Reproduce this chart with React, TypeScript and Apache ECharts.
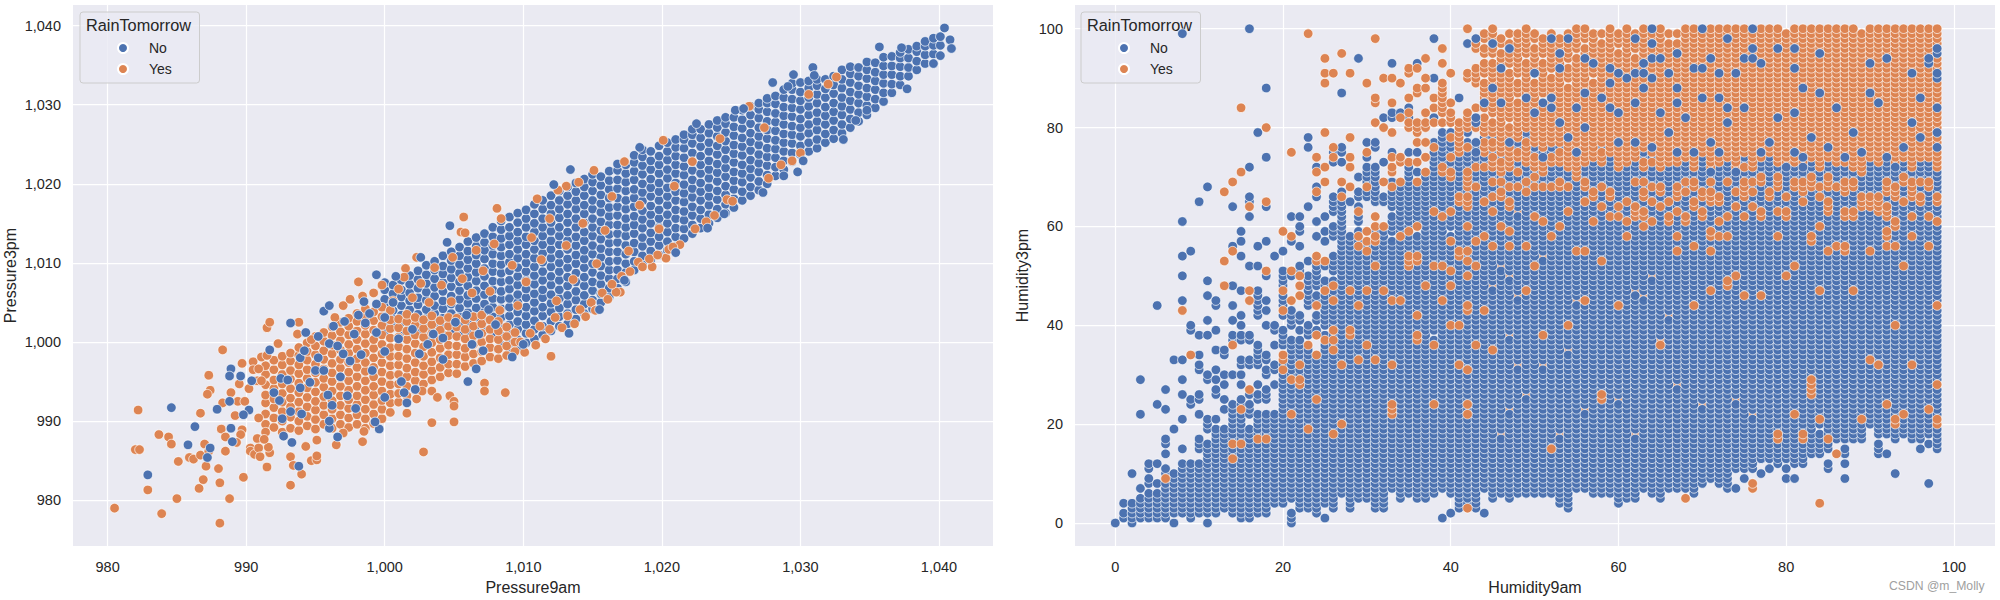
import React, { useEffect, useRef } from "react";
import * as echarts from "echarts";

const legendNames = ["No", "Yes"];
const legendTitle = "RainTomorrow";
const pressureXTicks = [980, 990, 1000, 1010, 1020, 1030, 1040];
const pressureYTicks = [980, 990, 1000, 1010, 1020, 1030, 1040];
const humidityTicks = [0, 20, 40, 60, 80, 100];

// Pressure plot: each row is [Pressure9am, Pressure3pm, Pressure3pm, ...]
const pressureNoColumns: number[][] = [
[1000.0,1001.2,1002.4,1003.3,1004.5,1005.4,1006.6,1007.5],
[1000.6,1001.9,1002.9,1004.0,1005.0,1006.1,1007.2],
[1001.2,1001.3,1002.5,1003.4,1004.6,1005.7,1006.6,1007.8],
[1001.8,1000.8,1002.0,1003.1,1004.1,1005.2,1006.2,1007.3,1008.4],
[1002.4,1001.2,1002.5,1003.5,1004.7,1005.6,1006.8,1007.9,1009.0],
[1003.0,1000.7,1001.9,1003.0,1004.1,1005.3,1006.3,1007.4,1008.5,1009.7],
[1003.6,1001.3,1002.4,1003.6,1004.6,1005.8,1006.9,1008.0,1009.1,1010.2],
[1004.2,1000.9,1002.0,1003.0,1004.2,1005.2,1006.4,1007.5,1008.6,1009.6,1010.9],
[1004.8,1001.4,1002.6,1003.6,1004.8,1005.8,1007.0,1008.1,1009.2,1010.3,1011.4],
[1005.4,1000.8,1002.0,1003.2,1004.3,1005.4,1006.5,1007.6,1008.7,1009.8,1010.9,1012.0],
[1006.0,1001.4,1002.6,1003.7,1004.9,1005.9,1007.1,1008.2,1009.3,1010.4,1011.5,1012.7],
[1006.6,1000.9,1002.1,1003.2,1004.3,1005.5,1006.5,1007.7,1008.8,1009.9,1011.0,1012.1,1013.2],
[1007.2,1001.5,1002.7,1003.8,1004.8,1006.0,1007.1,1008.3,1009.3,1010.5,1011.6,1012.6,1013.7],
[1007.8,1000.8,1002.0,1003.2,1004.4,1005.5,1006.6,1007.7,1008.9,1009.9,1011.1,1012.2,1013.3,1014.5],
[1008.4,999.6,1000.8,1001.9,1003.1,1004.2,1005.4,1006.4,1007.6,1008.7,1009.8,1010.9,1012.0,1013.1,1014.2,1015.3],
[1009.0,998.6,999.8,1001.0,1002.2,1003.3,1004.4,1005.5,1006.7,1007.8,1009.0,1010.1,1011.1,1012.3,1013.4,1014.5,1015.8],
[1009.6,999.2,1000.3,1001.6,1002.6,1003.8,1005.0,1006.0,1007.2,1008.3,1009.4,1010.6,1011.7,1012.8,1013.9,1015.1,1016.3],
[1010.2,999.9,1001.1,1002.2,1003.3,1004.4,1005.6,1006.7,1007.8,1008.9,1010.0,1011.1,1012.3,1013.3,1014.5,1015.6,1016.7],
[1010.8,1000.4,1001.6,1002.7,1003.9,1005.0,1006.1,1007.3,1008.4,1009.5,1010.6,1011.7,1012.8,1013.9,1015.0,1016.2,1017.4],
[1011.4,1000.9,1002.0,1003.3,1004.4,1005.6,1006.6,1007.8,1008.9,1010.1,1011.2,1012.3,1013.4,1014.5,1015.6,1016.8,1017.9],
[1012.0,1001.4,1002.6,1003.8,1004.9,1006.0,1007.2,1008.3,1009.5,1010.6,1011.7,1012.8,1014.0,1015.1,1016.2,1017.3,1018.5],
[1012.6,1002.0,1003.2,1004.3,1005.5,1006.6,1007.8,1008.9,1010.0,1011.1,1012.3,1013.4,1014.5,1015.7,1016.8,1017.9,1019.1],
[1013.2,1002.3,1003.6,1004.8,1005.9,1007.1,1008.2,1009.4,1010.5,1011.7,1012.8,1013.9,1015.1,1016.2,1017.4,1018.5,1019.6],
[1013.8,1002.9,1004.1,1005.3,1006.4,1007.6,1008.7,1009.9,1011.0,1012.2,1013.3,1014.5,1015.6,1016.8,1017.9,1019.0,1020.1],
[1014.4,1003.6,1004.8,1005.9,1007.1,1008.2,1009.4,1010.5,1011.6,1012.8,1013.9,1015.1,1016.2,1017.3,1018.5,1019.6,1020.6],
[1015.0,1004.2,1005.3,1006.5,1007.6,1008.8,1009.9,1011.1,1012.2,1013.4,1014.5,1015.6,1016.8,1017.9,1019.1,1020.2,1021.2],
[1015.6,1005.0,1006.1,1007.3,1008.4,1009.6,1010.7,1011.8,1013.0,1014.1,1015.2,1016.4,1017.5,1018.6,1019.8,1020.9],
[1016.2,1005.7,1006.8,1008.0,1009.1,1010.2,1011.4,1012.5,1013.6,1014.8,1015.9,1017.0,1018.2,1019.3,1020.4,1021.6],
[1016.8,1006.8,1008.0,1009.1,1010.3,1011.4,1012.6,1013.7,1014.8,1016.0,1017.1,1018.2,1019.4,1020.5,1021.7,1022.5],
[1017.4,1007.6,1008.8,1009.9,1011.1,1012.2,1013.4,1014.5,1015.6,1016.8,1017.9,1019.1,1020.2,1021.3,1022.4],
[1018.0,1009.1,1010.2,1011.4,1012.5,1013.7,1014.8,1015.9,1017.1,1018.2,1019.3,1020.5,1021.6,1022.7,1023.6],
[1018.6,1009.8,1010.9,1012.1,1013.2,1014.4,1015.5,1016.6,1017.8,1018.9,1020.0,1021.2,1022.3,1023.4,1024.3],
[1019.2,1010.4,1011.5,1012.7,1013.8,1015.0,1016.1,1017.2,1018.4,1019.5,1020.6,1021.8,1022.9,1024.1],
[1019.8,1011.0,1012.2,1013.3,1014.5,1015.6,1016.7,1017.9,1019.0,1020.1,1021.3,1022.4,1023.5,1024.8],
[1020.4,1011.6,1012.7,1013.9,1015.0,1016.1,1017.3,1018.4,1019.5,1020.7,1021.8,1023.0,1024.1,1025.2],
[1021.0,1012.1,1013.3,1014.4,1015.6,1016.7,1017.9,1019.0,1020.1,1021.3,1022.4,1023.5,1024.6,1025.6],
[1021.6,1013.1,1014.3,1015.4,1016.5,1017.7,1018.8,1019.9,1021.1,1022.2,1023.3,1024.5,1025.6,1026.2],
[1022.2,1013.7,1014.8,1016.0,1017.1,1018.3,1019.4,1020.5,1021.7,1022.8,1023.9,1025.1,1026.2,1026.9],
[1022.8,1014.4,1015.6,1016.7,1017.9,1019.0,1020.1,1021.3,1022.4,1023.5,1024.7,1025.8,1026.9],
[1023.4,1015.0,1016.1,1017.3,1018.4,1019.5,1020.7,1021.8,1022.9,1024.1,1025.2,1026.4,1027.5],
[1024.0,1015.7,1016.8,1018.0,1019.1,1020.3,1021.4,1022.5,1023.7,1024.8,1026.0,1027.1,1028.0],
[1024.6,1016.3,1017.4,1018.6,1019.7,1020.9,1022.0,1023.1,1024.3,1025.4,1026.5,1027.6,1028.4],
[1025.2,1017.0,1018.1,1019.3,1020.4,1021.5,1022.7,1023.8,1024.9,1026.1,1027.2,1028.4],
[1025.8,1017.9,1019.0,1020.2,1021.3,1022.4,1023.6,1024.7,1025.8,1027.0,1028.1,1029.3],
[1026.4,1018.5,1019.6,1020.8,1021.9,1023.0,1024.2,1025.3,1026.4,1027.6,1028.7,1029.8],
[1027.0,1019.2,1020.3,1021.5,1022.6,1023.7,1024.9,1026.0,1027.1,1028.3,1029.4,1030.2],
[1027.6,1020.0,1021.1,1022.3,1023.4,1024.5,1025.7,1026.8,1027.9,1029.1,1030.2,1030.8],
[1028.2,1021.0,1022.1,1023.3,1024.4,1025.5,1026.7,1027.8,1028.9,1030.1,1031.1],
[1028.8,1021.8,1022.9,1024.1,1025.2,1026.3,1027.5,1028.6,1029.7,1030.9,1031.9],
[1029.4,1022.8,1023.9,1025.1,1026.2,1027.3,1028.5,1029.6,1030.7,1031.9,1032.7],
[1030.0,1023.7,1024.8,1026.0,1027.1,1028.2,1029.4,1030.5,1031.6,1032.8],
[1030.6,1024.1,1025.2,1026.4,1027.5,1028.7,1029.8,1030.9,1032.1,1033.0],
[1031.2,1024.5,1025.6,1026.8,1027.9,1029.0,1030.2,1031.3,1032.4,1033.2],
[1031.8,1025.2,1026.3,1027.5,1028.6,1029.7,1030.9,1032.0,1033.2],
[1032.4,1025.7,1026.8,1028.0,1029.1,1030.2,1031.4,1032.5,1033.6],
[1033.0,1026.4,1027.5,1028.7,1029.8,1030.9,1032.1,1033.2,1034.4],
[1033.6,1027.1,1028.2,1029.4,1030.5,1031.6,1032.8,1033.9,1034.8],
[1034.2,1027.9,1029.0,1030.2,1031.3,1032.4,1033.6,1034.7],
[1034.8,1028.7,1029.9,1031.0,1032.1,1033.3,1034.4,1035.4],
[1035.4,1029.6,1030.7,1031.9,1033.0,1034.1,1035.3],
[1036.0,1030.4,1031.5,1032.7,1033.8,1034.9,1036.0],
[1036.6,1031.5,1032.6,1033.8,1034.9,1036.1],
[1037.2,1032.5,1033.6,1034.8,1035.9,1036.6],
[1037.8,1033.6,1034.7,1035.9,1037.0],
[1038.4,1034.4,1035.5,1036.7,1037.4],
[1039.0,1035.2,1036.3,1037.4,1038.0],
[1039.6,1035.2,1036.4,1037.5,1038.4],
[1040.1,1036.2,1037.5,1038.6],
];

const pressureYesColumns: number[][] = [
[991.4,989.6,990.9,992.3,993.3,994.6,995.9,997.0],
[992.0,989.2,990.4,991.7,992.8,994.1,995.2,996.5,997.7],
[992.6,988.6,990.0,991.2,992.4,993.5,994.7,995.9,997.1,998.2],
[993.2,989.1,990.5,991.8,992.9,994.1,995.3,996.4,997.6,998.6],
[993.8,988.8,990.0,991.2,992.4,993.6,994.8,996.0,997.1,998.3,999.3],
[994.4,989.4,990.6,991.8,993.0,994.2,995.4,996.5,997.7,998.8,999.9],
[995.0,989.0,990.2,991.4,992.5,993.7,994.9,996.1,997.2,998.4,999.5,1000.7],
[995.6,989.6,990.8,992.0,993.1,994.3,995.4,996.6,997.8,998.9,1000.1,1001.2],
[996.2,989.1,990.3,991.5,992.6,993.8,995.0,996.1,997.3,998.5,999.6,1000.8,1001.9],
[996.8,989.6,990.8,992.0,993.2,994.4,995.5,996.7,997.8,999.0,1000.2,1001.3,1002.5],
[997.4,989.2,990.4,991.6,992.7,993.9,995.1,996.2,997.4,998.6,999.7,1000.9,1002.0,1003.0],
[998.0,989.6,990.8,992.1,993.2,994.4,995.6,996.8,997.9,999.1,1000.3,1001.4,1002.6,1003.6],
[998.6,989.1,990.3,991.5,992.7,993.9,995.1,996.3,997.4,998.6,999.8,1001.0,1002.1,1003.3,1004.2],
[999.2,989.7,990.9,992.1,993.3,994.4,995.6,996.8,998.0,999.2,1000.3,1001.5,1002.7,1003.8],
[999.8,990.3,991.5,992.6,993.8,995.0,996.2,997.4,998.5,999.7,1000.9,1002.1,1003.2,1004.4],
[1000.4,991.1,992.3,993.4,994.6,995.8,997.0,998.2,999.3,1000.5,1001.7,1002.8,1004.0],
[1001.0,992.4,993.5,994.7,995.9,997.1,998.2,999.4,1000.6,1001.8,1002.9],
[1001.6,993.2,994.4,995.6,996.7,997.9,999.1,1000.3,1001.4,1002.6,1003.5],
[1002.2,993.9,995.1,996.2,997.4,998.6,999.8,1000.9,1002.1,1003.1],
[1002.8,994.7,995.9,997.0,998.2,999.4,1000.6,1001.7,1002.8],
[1003.4,995.2,996.4,997.5,998.7,999.9,1001.1,1002.2,1003.3],
[1004.0,995.6,996.8,998.0,999.2,1000.3,1001.5,1002.7],
[1004.6,996.1,997.2,998.4,999.6,1000.8,1002.0,1003.1],
[1005.2,996.0,997.2,998.4,999.5,1000.7,1001.9,1003.0],
[1005.8,996.9,998.1,999.2,1000.4,1001.6,1002.8],
[1006.4,997.3,998.5,999.7,1000.8,1002.0,1003.2],
[1007.0,997.6,998.8,1000.0,1001.1,1002.3,1003.4],
[1007.6,998.1,999.3,1000.4,1001.6,1002.8],
[1008.2,997.9,999.1,1000.3,1001.4,1002.6],
[1008.8,998.3,999.5,1000.7,1001.9],
[1009.4,998.8,1000.0,1001.2],
];

// Individual readings, as [Pressure9am, Pressure3pm]
const pressureYesPoints: [number, number][] = [
[980.5,979.0],[982.2,991.4],[982.0,986.4],[982.3,986.4],[982.9,981.3],[983.7,988.3],[983.9,978.3],[984.4,988.0],[984.6,987.1],[985.1,984.9],[985.0,980.2],[985.9,985.4],[986.2,985.2],[986.7,991.0],[986.7,985.7],[986.6,981.5],[986.9,982.6],[987.0,987.1],[987.1,984.3],[987.3,986.2],[987.3,995.8],[987.4,993.9],[987.2,993.4],[988.0,984.0],[988.1,982.2],[988.1,977.1],[988.3,999.0],[988.3,992.3],[988.2,989.0],[988.5,988.0],[988.5,986.2],[988.8,980.2],[988.9,993.6],[989.4,992.5],[989.9,992.5],[989.5,994.7],[989.7,997.3],[989.2,990.7],[989.7,988.9],[989.6,988.3],[989.3,987.3],[989.8,982.9],[990.2,994.1],[990.5,997.5],[990.5,996.5],[990.9,996.6],[990.8,995.1],[991.1,995.1],[990.3,986.6],[990.3,986.2],[990.6,985.8],[990.8,987.8],[990.9,986.6],[991.0,985.5],[991.7,986.0],[991.5,984.2],[991.6,986.7],[991.4,988.6],[991.3,987.7],[990.9,990.4],[991.5,1001.8],[991.7,1002.5],[991.1,998.1],[991.5,998.3],[992.3,999.8],[993.2,985.5],[993.4,984.4],[993.2,981.9],[994.0,983.3],[994.3,986.8],[994.7,985.0],[995.1,985.1],[995.1,985.6],[995.1,987.6],[993.8,1002.5],[993.7,1001.0],[994.7,1000.3],[996.5,987.0],[997.0,988.5],[998.1,1007.6],[998.4,987.4],[998.5,988.7],[1001.6,991.0],[1002.3,992.8],[1002.8,986.1],[1002.7,993.8],[1003.4,989.8],[1003.4,993.8],[1003.8,993.0],[1004.7,993.2],[1005.0,992.5],[1005.0,991.9],[1005.0,989.9],[1007.2,994.8],[1007.2,993.8],[1005.7,1015.8],[1005.5,1013.9],[1005.8,1013.8],[1001.5,1009.3],[1002.3,1010.7],
[1008.7,993.6],[1012.0,998.2],[1017.0,1006.3],[1016.7,1006.3],[1020.3,1010.6],[1019.3,1009.5],[1021.3,1012.3],[1023.8,1016.0],[1024.7,1018.0],[1030.0,1023.9],[1030.6,1031.3],[1032.0,1032.6],[1032.6,1033.5],[1026.3,1029.8],[1020.1,1025.5],[1015.1,1021.7],[1017.3,1022.8],[1014.0,1020.2],[1013.1,1019.7],[1012.5,1019.2],[1011.0,1018.1],
[996.4,1003.1],[997.0,1004.6],[997.5,1005.4],[998.4,1005.8],[999.2,1006.2],[999.8,1007.2],[1000.6,1005.2],[1001.0,1006.7],[1001.4,1008.2],[1002.0,1005.6],[1002.6,1007.4],[1003.2,1005.0],[1003.6,1009.4],[1004.1,1007.2],[1004.8,1005.1],[1004.9,1010.7],[1005.6,1008.0],[1006.3,1006.2],[1006.6,1011.6],[1007.1,1009.0],[1007.6,1006.4],[1007.9,1012.4],[1008.1,1016.9],[1008.3,1004.0],[1008.4,1015.6],[1009.2,1009.7],[1009.6,1004.6],[1010.2,1007.6],[1010.6,1013.2],[1011.3,1010.4],[1011.9,1015.6],[1012.4,1005.2],[1013.1,1012.2],[1013.6,1007.9],[1014.3,1015.0],[1015.3,1009.9],[1015.9,1014.1],[1016.4,1018.4],[1017.6,1011.5],[1018.4,1017.3],[1019.8,1014.3],[1020.9,1019.7],[1022.2,1022.8],[1024.2,1025.7],[1027.4,1027.1],
[1009.8,1000.0],[1010.1,998.7],[1010.5,1001.1],[1010.9,999.6],[1011.2,1002.0],[1011.6,1000.4],[1011.9,1001.6],[1012.3,1003.1],[1012.8,1001.8],[1013.2,1003.3],[1013.7,1002.3],[1014.1,1004.1],[1014.5,1003.2],[1014.9,1005.0],[1015.2,1004.0],[1015.7,1006.2],[1016.1,1005.4],[1016.4,1007.3],[1017.1,1008.3],[1017.7,1008.9],[1018.3,1010.1],[1018.6,1009.5],[1019.1,1010.5],[1019.7,1011.0],[1020.5,1011.7],[1020.8,1012.0],[1022.4,1014.3],[1023.2,1015.2],[1025.1,1017.8],[1027.7,1020.7],[1028.6,1022.4],[1029.4,1022.9],
];

const pressureNoPoints: [number, number][] = [
[982.9,983.2],[984.6,991.7],[986.3,989.3],[985.8,987.0],[987.2,985.4],[987.4,986.6],[987.9,991.5],[988.8,992.5],[988.9,996.6],[988.8,995.7],[989.6,995.7],[990.2,991.4],[989.8,990.8],[988.9,989.1],[989.0,987.4],[990.4,995.1],[991.7,999.0],[993.2,1002.4],[993.8,984.3],[992.7,988.1],[993.3,987.3],[994.3,1001.2],[995.6,1003.9],[996.0,1004.6],[999.4,1008.5],[1000.8,1008.3],[1002.6,1010.7],[1004.7,1014.7],[1004.5,1012.6],[999.6,989.0],[996.6,988.0],[996.0,989.1],[996.0,990.0],[1001.6,992.3],[1006.0,995.0],[1006.6,996.6],
[992.0,993.6],[992.4,992.6],[992.5,995.4],[993.0,995.2],[993.9,994.2],[994.6,994.9],[995.0,996.4],[995.6,996.4],[993.9,998.0],[994.2,998.9],[995.2,998.0],[996.0,999.8],[996.6,999.5],[997.0,998.5],[997.5,997.6],[996.8,995.6],[997.3,993.2],[1000.0,993.0],[1001.2,995.0],[1001.4,993.6],[1002.2,994.0],[1000.0,998.8],[999.4,1001.2],[998.6,1002.4],[998.1,1003.4],[998.9,1003.6],[1000.0,1003.1],[999.4,1004.8],[1000.6,1005.0],[1002.5,998.5],[1003.1,999.7],[1004.2,997.8],[1003.5,1001.0],[1004.2,1000.5],[1006.3,999.7],[1007.1,998.9],[1006.8,1001.0],[1008.0,1002.2],[997.8,1001.0],[998.3,998.4],[999.1,996.4],[996.3,1002.0],[995.2,1000.7],[997.1,1002.6],[998.5,1005.1],[995.9,993.3],[997.9,991.6],[996.2,992.0],[994.0,990.9],[992.6,990.3],[993.2,991.2],[999.3,989.9],[1001.0,1000.4],[1002.0,1001.6],[1005.1,1002.5],[1005.9,1003.4],[1007.5,1004.1],
[1040.4,1039.7],[1040.8,1038.2],[1040.9,1037.1],[1039.6,1035.2],[1035.7,1037.3],[1037.3,1037.2],[1030.9,1034.7],[1029.5,1033.8],[1031.0,1033.7],[1028.0,1032.8],[1029.1,1032.3],[1025.3,1029.3],[1025.9,1029.5],[1022.5,1027.6],[1018.4,1024.6],[1013.4,1021.8],[1012.2,1019.9],[1033.1,1025.6],[1034.0,1028.0],[1034.8,1029.3],[1037.7,1032.0],[1030.2,1022.9],[1029.8,1021.5],[1028.8,1021.0],[1027.3,1018.9],[1024.5,1016.2],[1023.3,1014.4],[1021.0,1011.3],[1017.3,1007.8],[1015.5,1004.1],[1013.3,1001.1],[1009.2,998.1],[1010.0,999.7],
];

// Humidity plot: one string per Humidity9am value 0..100. Each character is one Humidity3pm value from 0 up
// (spaces only make it readable): . nothing, n No, y Yes, o Yes partly hidden by No, N No lying over Yes.
const humidityColumns: string[] = [
"n",
".nn.n",
"nnnnn..... n",
".nnnnn.n.. .......... ..n......n",
".nnnnnn.nn .nn",
".nnnnnn.n. ..n....... ....n..... .......... ....n",
".nnnnnnnny nn..n.nn.. ...n...n",
"n.nnnnnnnn n........n .......... ...n",
"..nnnnnnnn nnn..n.... .n....n..n ...n...... ...y.n.... n...n..... .n........ .......... .......... .........n",
".nnnnnnnnn nnn....... ....nn.... ....y....n n......... .....n",
"..nnnnnnnn nnn..nnn.. ..n..nn... .nn.n...n. .......... .......... .....n",
"n.nnnnnnnn nnnnnnn..n nn.......n n.......n. .n....n..n .......... ........n",
"..nnnnnnnn nnnnnnnnnn .n....nn.n .n...n...n ....nn",
"...nnnnnnn nnnnnnnnnn ...n.n..n. n...nn.... ........y. ...y...... .......y",
"..nnnnnnnn nnnynnynnn nnnnn..... n.....ynn. .n..n...n. .....yn... ....n....y",
".nnnnnnnnn nnnnnnynnn nnnynn..n. n.nn...nn. n.n....n.. ....n..n.n .......... .y........ ....y",
".nnnnnnnnn nnnnnnnnnn ..nnn.ny.. ..nn...nn. .....y.y.. ..n....... ..n.ynn... ..n....... .......... .......... n",
"..nnnnnnnn nnnnnnnynn nnn..nn.n. ..nnnnn... ..nnnnnn.. ..n...n... .......... .........n",
"..nnnnnnnn nnnnnnnynn nnn..nnn.. nn.nn..... n..n.n.... ny.....n.. ....ny.... ....n..... y.......n",
"....nnnnnn nnnnnnnnnn nnn.....n. .nn...n..n n......... ....n",
"....nnnnnn nnnnnnnnnn nnnnnnnnnn nynyy.nnnn ..nynnnynn nn...n...y",
"nnn..nnnnn nnnnnnnnnn nnynnnnnny nnnnnnnn.. nnnn.y.... ny.....ny. ..n....... .....y",
"...nnnnnnn nnnnnnnnnn nnnnnnnnyy nnynnnnn.n .nn...y.y. ynn...n..n n.n",
"...nnnnnnn nnnnnnnnny nnnnnnnnnn nnnnnny.nn n...nnnnnn n..n...... ....n..... ......n.n. .......... .........y",
"..nnnnnnnn nnnnnnnnnn nnnnnynnnn nnnny...yn .nn.ynn.nn nnnyy...n. .n....nyn. .yn.y",
".n..nnnnnn nnnnnnnnnn nnnnnnnnnn nnnnnnnyn. nnnnnnnynn ..ny...n.n ..n......y ..y......y .........y .y..y",
"...nnnnnnn nnnnnnnnyn nnnnnnnnnn nnnnnynyny nnnnnynnyn .nnnn...nn n..nnnn... ...nyny... .......... .y",
"......nnnn nnnnnnnnnn ynnnnnnnnn nnynnnnnnn nnnnnnnnnn nnnnnnnnnn nnnnnnyn.y ...n.nn... .......n.. .....y",
"...nnnnnnn nnnnnnnnnn nnnnnnnnnn nnnnnnnnyy nnnnnnnynn nnnnnnnnn. .....n..y. ..y.y...y. .......... .y",
".....nnnnn nnnnnnnnnn nnnnnnnnnn nnnynnnnnn nnnnynnnnn nnnnnnynyn .nnyn.nn.. n......... .......... ....n",
".....nnnnn nnnnnnnnnn nnnnnnnnnn nnnnnnynnn nnnnnnnynn nnnnnyny.y ......nnyn nnn.ny.n.. .........y",
"...nnnnnnn nnnnnnnnnn nnnnnnnnnn nnnynnnnnn nnnnnnnnnn nnynnnnyyn y.y..nnnnn nnn...nn.. .y...yy... ........y",
"...nnnnnnn nnnnnnnnnn nnnnnnnnnn nnnnnnnnnn nnnnnnnynn nnnnnnnnnn y....nn..y ...n...... y.n....... y",
".......nnn nnnnnnnnnn nnyyynnnnn nnynnnnnnn nnnnnynnnn nnnnnnnn.n nnn.nnnnyn .yy.yn...y ..nn.y.... y..n",
".....nnnnn nnnnnnnnnn nnnnnnnnnn nnnnnnnnnn nnnnnynnnn nnnnnnnnyn nnnnnnnnny ...yy..... ..yn.....y",
"......nnnn nnnnnnnnnn nnnnnnnnnn nnnnnnnnnn nnnnnnnnnn nnyyynnnny nnnnnnnnnn nnny.n.... yynyn.y... .yy",
".....nnnnn nnnnnnnnnn nnnnnnnnnn nnnnnnnyyn nnynnnnnnn nnnyynnnn. ynnnnnnnny .n.y.n.y.y yy.....yy. ..yn",
".....nnnnn nnnnnnnnnn nnnnnnnnnn nnnnnnnnnn nnnnnnnnyn nnnnnnnnnn nnnnnnnnnn ny..y..y.. yy.y....y. y...y",
"......nnnn nnnnnnnnnn nnnnynnnnn nnnnnnyn.n nnnnnnnnnn nnynnnnnnn nnnynnnnnn nnnnnnyn.. .yn.y.y... n.......n",
".n.....nnn nnnnnnnnnn nnnnnnnnnn nnnnnnnnnn nnnnnynnnn nnynnnnnnn nnynnnnnnn nyynnnnnnn .y.yyyyyyy ...y..y",
"..n...nnnn nnnnnnnnnn nnnnnnnnnn nnnnnnnnnn ynnnnnnnyn nynnnnnyn. nnnynnnnnn yynnynnnyn .yyy.y.... .y",
"...nnnnnnn nnnnnnnnnn nnnnnnnnnn nnynnnnnnn ynnnnnnnnn nnnnyynnnn nnnnnyynnn nnnnnyyyyy yy....n...",
"...ynnnnnn nnnnnnnnnn nnynynnnnn nynnnnnnnn nnnyynnnnn ynnynynnnn ynnnyyynyy yynnnnyn.n yyyy...... yy.....n.. y",
"...nnnnnnn nnnnnnnnnn nnnnnnnnnn nnnnnnynnn nnnnnnnnnn nnynnnnynn nnnnnnnnyn nnynnNnN.. yNN.y....y yyy...yyN.",
"..n....nnn nnnnnnnnnn nnnnnnnnnn nnnnnnnnnn nnnynnnnnn nnnnnnnnyn nnnnnynnnn nnynnyyyny yyy.yNyyyy .yyy.yy.yy",
".....nnnnn nnnnnnnnnn nnnnnnnnnn nnnnnynnnn nnnnnnnnon nnnnnnynnn nnnynnynny nnyyynyyny yy.yyyyyNy yyyy.yyNyy y",
"......nnnn nnnnnnnnon nnnnnnnnnn nnnnnnnnnn nnnnnnnnnn nnonnnnnnn ynnnnnyyny nyyynyyyyy yyyyyNyyyy yyNyyy.yy",
".....nnnnn nnnnnnnnnn nnnonnnnnn nnnnnnnnon nnnnnnnnnn onnnnnynny nnnnyynnyn nnyyyyyNyy y.yyyyyyyy yy.yyyNy.y",
"......nnnn nnnnnnnnnn nnnnnnnnnn nnonnnnnnn nnnnnnonnn nnnnnnnnnn nnnonnnnyn nynnyynnyy yyyyyy.yyy .yyyyyyyyy",
"......nnnn nnnnnnnnnn nnnnnnonnn nnnnnnnnnn nnnnnnnynn nnnnnnynnn nnnnnnnyny nnnyyyyynn yyyyyyNyyy yyyy.yyyyy y",
"......nnnn nnnnnnnnnn nnnnnnnnnn nnnnnnnnnn nnnnnnnnnn nnynnnnnnn nnynnnnnyn ynyyynnyyy yyyNyyyyyy .Nyyyyy.yy",
"......nnnn nnnnnnnnnn nnnnnnnnnn nnonnnnnyn nnnnnnnnnn nnnnonnnnn nynnnnnnyn nyyyNnyyyy yyyyyN.yyy yyyy.yyyy.",
"......nnnn nnnnnynnnn nnnnnnnnnn nnnnnnnnnn nnnnnnnnnn nnnnnnnnyn nnnnnnnnyn nnnyynnyyy yyyyNyNyyy y.yyyyyyNy",
"....nnnnnn nnnnnnnnon nnnnnnnnnn nnnnnnnnnn nnnnnnnnnn nnnnnnnnnn ynnnnnnnyy nnnyyynyyy yNyyyyyyyy yyNyyNyyy.",
"...nnnnnnn nnnnnnnnnn nnnnnnnnnn nnnnnonnnn ynnnnnnnnn nnnnnnnnnn nnnynnnnyn nnyyyyyyNy yyyyyyyyy. yyy.yyyyNy",
".......nnn nnnnnnnnnn nnnnnnnnnn nnnnnnnnnn nnnnnonnnn nnnnnynnnn nnnnnnnnnn yyyyyNyyyy yyyyNyyyyy yyyyy.yyyy y",
".......nnn nnnnnnnnnn nnnonnnnnn nnnnnnnnnn nnnnnynnnn nnnnnynnnn nnnnnynnyy nnnyyyyyyy NyyyyyyNyy yyyyNyy.yy y",
"......nnnn nnnnnnnnnn nnnnnnnnnn nnnnnnnnnn nnnnnnnnnn nnnnnnnnnn nynnnnyynn nnnnyyyyyy yyyyyyyyyy .yyNyyyyyy",
"......nnnn nnnnnnnnnn nnnnnyynnn nnnnnnnnnn nnnnnnnnnn nnnynnnnnn nnnnynnnyn nnnyyynyyy yyyyyyNyyy yyyyyyyy.y",
"......nnnn nnnnnnnnnn nnnnnnnnnn nnnnnnnnnn nnnnnnnnnn nnnnnnnnnn nnynnnyynn nnnnnyyyyy yyyyNyyyyN yyNyyyyyyy y",
"....nnnnnn nnnnnnnnnn nnnnnonnnn nnnnnnnnnn nnnnynnnnn nnnnnnnnnn nnynynnnnn nnyyyyyNyy yyyNyyyyyy yNyyyy.yyy",
".....nnnnn nnnnnnnnnn nnnnnnnnnn nnnnnnnnnn nnnnnnnnnn nnnnnnnnyn nynnnynnnn nnnyyyyyyy yyyyyyyyyy Nyyyyyyyyy y",
".....nnnnn nnnnnnnnon nnnnnnnnnn nnnnnnnnnn nnnnnnnonn nnnnnnnnnn nnyyynnnny nnnnyyyNyy yyyyyNyyyy yNyyy.yyNy",
".......nnn nnnnnnnnnn nnnnnnnnnn nnnnnnnnnn nnnnnnonnn nnnnnnnnnn ynyynnyyny nnyynnyyyy yyyyyyyyNy yNyNyyyyyy y",
"......nnnn nnnnnnnnnn nnnnnnnnnn nnnnnnnnnn nnnnnnnnnn onnnnnnnnn nynnnynnyn nnnynyNyyy yyyyyyyyyy NyyyNyyNyy N",
".....nnnnn nnnnnnnnnn nnnnnnnnnn nnnnnnyonn nnnnnnnnnn nnnnnnnnnn nnnnynnyyn nnyyyyyyyy yyyNyyyyyy yyyyNyyyyy y",
".......nnn nnnnnnnnnn nnnnnnnnnn nnnnnnnnnn nnonnnnnnn nnnnnnnnnn nyynnynnnn nnnyyyyyyN yyyyyyyyyy yNyyyyyy.y",
".......nnn nnnnnnnnnn nnnnnnnnon nnnnnnnnnn nnnnnnnnnn nnnnnynnyn nnnynnyyyn nnnyyNyyyy yyyyyNyyNy yyyyyNyy.y",
".....y.nnn nnnnnnnnnn nnnnnnnnnn nnnnnnnnnn nnnnnnnnnn nnnnnnnnnn nyynnnnyny nnnnyyyyyy yyNyyyyyyy yyyyyyyyyy y",
"......nnnn nnnnnnnnnn nnnnnnnnnn nnnnnnnnnn nnnnynnnnn nnnnnnynnn nnnnyynnyy nnyyyNyyyy yyyyyyyyyy yyNyyyyyyy y",
"........nn nnnnnnnnnn nnnnonnnnn nnnnnnnnnn nnnnnnnnnn nnnnnnnnnn nnyynnyynn nnnnnyyyyy yyyyyyNyyy yyNyyyyyyy N",
".........n nnnnnnnnnn nnnnnnnnnn nnnnnnnnnn nnnnnnnynn nnnnnynnyy nnnnnyyyny nNyyyyyNyy yyyyyyyyyy yyyyNyyyyy y",
"........nn nnnnnnnnnn nnnnnnnnnn nnnnnnnnnn nnnnnnnnnn nnnnnnnnyn nynnnyynnn nnnyyNyyyy yyyyyyNyyy yNyyyyyyyy y",
".......nnn nnnnnnnnnn nnnnnnnnnn nnnnnnnnnn nnnnnnnnyy nnnnnnnnyn nnynnnnnny nnnnyyyyyy yNyyNyyyyy yyyyyyyyNy y",
".......n.. .nnnnnnnnn nnnnnonnnn nnnnnnnnnn nnnnnnnnnn ynnnnnnnnn nnnnynnynn nNyyyyyyyy yyyyyyyyyy yNyyyyyyyy y",
".........n .nnnnnnnnn nnnnnnnnnn nnnnnnnnnn nnnnnnynnn nnnnnnnnnn nnynnnyyyy nnynnyyyyy yyyyNyyyyy yyyyNyyyyy y",
".......yy. .nnnnnnnnn nnonnnnnnn nnnnnnnnnn nnnnnnnnnn nnnnnnnnnn nnnnynnyny nnyyyyyyyy yyyyyyyyyy yyyyNyNyyy N",
"..........n ..nnnnnnnn nnnnnnnnnn nnnnnnnnnn nnnnnynnnn nnnnnnnnnn nyynnnnnyy nnnyNyyyyy yyyyyyyyyy yyNyyyyyyy y",
"...........n .nnnnnnnn nnnnnnnnnn nnnnnnnnnn nnnnnnnnnn nnnnnnnnnn nnnnnyynnn nnnnyyNyyy yyyyyyyyyy yyyyyyyyyy",
"............ nnnnnyynn nnnnnnnnnn nnnnnnnnnn nnnnnnnnnn nnnnnnnynn nnynnnnyyy nnyyyyyyyy yNyyyyyyyy yyyyyNyyyy",
".........n .n.nnnnnnn nnnnnnnnnn nnnnnnnnnn nnnnnnnnnn ynnnnnnnnn nnyynnynnn nnNyyyyyyy yyyyyyyyyy yyyyyyyyyy",
".........n ..nnnnnnnn nnynnnnnnn nnnnnnnnnn nnnnnnnnnn nnynnnnnnn nnnnnnnnyy nnnyyNyyyy yyyNyyyyyy yyNyyyNyyy y",
"............ nnnnnyynn nnnnnnnnnn nnnnnnnnnn nnnnnnnnnn nnnnnnnnnn nnnnynyyyn nNyNyyyyyy yyyyyyyNyy yyyyyyyyyy y",
"............ ..nnnnnnn nnnnnyyyyn nnnnnnnnnn nnnnnnnnnn nnnnnnyynn nnnnnnnyyy nnnyyyyNyy yyyyyyyyyy yyyyyyyyyy y",
"....y..... ....nnnnn. nynnnnnnnn nnnnnnnnnn nnnnnnnynn nnnnnnnnnn ynnnnnynyn nnyyyyyyyy yyyyyyyNyy yyyyyNyyyy y",
"...........nn ..nnynnn nnnnnnnnnn nnnnnnnnnn nnnnnnnnnn nnnnynnnnn nnyyynnyyy nnnyyNyyyy yyyyyyyyyy yyyyyyyyyy y",
"..............y ..nnnn nnnnnnnnnn nnnnnnnnnn nnnnnnnnnn nnnnnynnnn nnnnnnnynn nnyyyyyyyy yyyNyyyyyy yyyyyyyyyy y",
".........n ..n.nn.nnn nnnnnnnnnn nnnnnnnnnn nnnnnnnnnn nnnnnyynnn nnyynnnyyy nnnyNyyyyy yyyyyyyyyy yyyyyyyyyy y",
"............ .....nnn nnnnnnnnnn nnnnnnnnnn nnnnnnnynn nnnnnnnnnn nnyynnnnyy nnyyyyyyyN yyyyyyyyyy yyyyyyyyyy y",
".................nn nnynnnnnnn nnnnnnnnnn nnnnnnnnnn nnnnnnnnnn nnnnnyyynn nnyyyyNyyy yyyyyyyyyy yyyyyyyyyy y",
".......... ..........  nnnnnnnnnn nnnynnnnnn nnnnnnnnnn nnnnnynnnn nnnnyyynnn nnnnyyyyyy yyyyyyyNyy yyyNyyyyyy y",
"............. .nnn.nn nnnnnnnnnn nnynnnnnnn nnnnnnnnnn nnnnnnnnnn nnnyyyynnn nnnyyyyyyy yyyyyNyyyy yyyyyyyyyy y",
"..............n ...nn nnnnynnnnn nnnnnnnnnn nnnnnnnnnn nnnnnnynyy nnyyynnyyy nnnnNyyyyy yyyyyyyyyy yyyyNyyyyy y",
"..........n ......nnn yynnnnnnnn nnnnnnnnnn ynnnnnnnnn nnnnnnynnn yynnnnyyyn nnNyyyyyyy yyyyyyyyyy yyyyyyyyyy y",
"............. .....nnn nynnnnnnnn nnnnnnnnnn nnnnnnnnnn nynnnnnnnn nnnnynnnyy nnnyyNyyyy yyyyyyyyyy yyyyyyyyyy y",
"................ .nnn nnnnnnnnnn nnynnnnnnn nnnnnnnnnn nnnnnnnnyn nnynnnyyyy nnyyyyyyyy yNyyyyyyyy yNyyyyyyyy y",
"............ ...n.nnnn nnnnnnnnnn nnnnnnnnnn nnnnnnnnnn nnnnnnnnnn nnnnyynnyn nnnyyyyNyy yyyyyNyyyy yyyyyyyyyy y",
"........n. ......n.nn nnnynnnnnn nnnnnnnnnn nnnnnnnnnn nnnnnnynnn nnynnnnnyy nnnnyyyyyy yyyyyyyyyy yyyNNyyyyy y",
".............. .nnnnn yynnnnnnyn nnnnnnnnnn nnnnynnnnn nnnnnnnnnn nynnnyynnn nnyyyyNyyN yyyyNyyyyy NNyyyNNyyy y",
];

const LEFT_GRID = { left: 73, top: 5, width: 920, height: 543 };
const RIGHT_GRID = { left: 1075, top: 5, width: 920, height: 543 };
const BLUE = "#4c72b0";
const ORANGE = "#dd8452";
const INK = "#262626";
const FONT = "'Liberation Sans', Arial, sans-serif";

function fromColumns(cols: number[][]): number[][] {
  const out: number[][] = [];
  cols.forEach((row) => row.slice(1).forEach((y) => out.push([row[0], y])));
  return out;
}

function fromHumidity(mark: string): number[][] {
  const out: number[][] = [];
  humidityColumns.forEach((col, x) => {
    col.replace(/ /g, "").slice(0, 101).split("").forEach((c, y) => {
      if (c === mark) out.push([x, y]);
    });
  });
  return out;
}

function scatter(name: string, color: string, axis: number, data: number[][]) {
  return {
    type: "scatter",
    name,
    xAxisIndex: axis,
    yAxisIndex: axis,
    data,
    symbol: "circle",
    symbolSize: 9.6,
    silent: true,
    progressive: 0,
    large: false,
    itemStyle: { color, borderColor: "#ffffff", borderWidth: 0.7, opacity: 1 },
    emphasis: { disabled: true },
  };
}

function axis(index: number, name: string, min: number, max: number, ticks: number[], gap: number, isX: boolean) {
  return {
    type: "value",
    gridIndex: index,
    name,
    nameLocation: "middle",
    nameGap: gap,
    nameTextStyle: { color: INK, fontSize: 16, fontFamily: FONT },
    min,
    max,
    axisLine: { show: false },
    axisTick: { show: false, customValues: ticks },
    axisLabel: { color: INK, fontSize: 14.5, fontFamily: FONT, margin: isX ? 13 : 12, customValues: ticks, hideOverlap: false, showMinLabel: true, showMaxLabel: true },
    splitLine: { show: true, lineStyle: { color: "#ffffff", width: 1.25 } },
  };
}

function legendBox(x: number) {
  return [
    {
      type: "rect",
      z: 90,
      silent: true,
      shape: { x, y: 12, width: 119.5, height: 71, r: 3 },
      style: { fill: "rgba(234,234,242,0.8)", stroke: "#cccccc", lineWidth: 1 },
    },
    {
      type: "text",
      z: 91,
      silent: true,
      x: x + 6,
      y: 24.5,
      style: { text: legendTitle, fill: INK, fontSize: 16.3, fontFamily: FONT, verticalAlign: "middle", textAlign: "left" },
    },
  ];
}

function legend(left: number) {
  return {
    data: legendNames,
    orient: "vertical",
    left,
    top: 40,
    padding: 0,
    itemWidth: 10,
    itemHeight: 10,
    itemGap: 5,
    icon: "circle",
    selectedMode: false,
    z: 95,
    textStyle: { color: INK, fontSize: 14, fontFamily: FONT, padding: [0, 0, 0, 16], lineHeight: 16 },
  };
}

export default function App() {
  const ref = useRef<HTMLDivElement>(null);
  useEffect(() => {
    const chart = echarts.init(ref.current!, undefined, { renderer: "svg" });
    chart.setOption({
      animation: false,
      backgroundColor: "#ffffff",
      grid: [
        { ...LEFT_GRID, show: true, backgroundColor: "#eaeaf2", borderWidth: 0 },
        { ...RIGHT_GRID, show: true, backgroundColor: "#eaeaf2", borderWidth: 0 },
      ],
      xAxis: [
        axis(0, "Pressure9am", 977.5, 1043.9, pressureXTicks, 29, true),
        axis(1, "Humidity9am", -4.8, 104.9, humidityTicks, 29, true),
      ],
      yAxis: [
        axis(0, "Pressure3pm", 974.2, 1042.6, pressureYTicks, 55, false),
        axis(1, "Humidity3pm", -4.67, 104.8, humidityTicks, 45, false),
      ],
      legend: [legend(117), legend(1118)],
      series: [
        scatter("No", BLUE, 0, fromColumns(pressureNoColumns)),
        scatter("Yes", ORANGE, 0, [...fromColumns(pressureYesColumns), ...pressureYesPoints]),
        scatter("No", BLUE, 0, pressureNoPoints),
        scatter("Yes", ORANGE, 1, fromHumidity("o")),
        scatter("No", BLUE, 1, fromHumidity("n")),
        scatter("Yes", ORANGE, 1, fromHumidity("y")),
        scatter("No", BLUE, 1, fromHumidity("N")),
      ],
      graphic: [
        ...legendBox(80),
        ...legendBox(1081),
        {
          type: "text",
          z: 96,
          silent: true,
          x: 1889,
          y: 586,
          style: { text: "CSDN @m_Molly", fill: "#a0a0a0", fontSize: 12.2, fontFamily: FONT, verticalAlign: "middle" },
        },
      ],
    });
    return () => chart.dispose();
  }, []);
  return <div ref={ref} style={{ position: "fixed", left: 0, top: 0, width: 2000, height: 600 }} />;
}
